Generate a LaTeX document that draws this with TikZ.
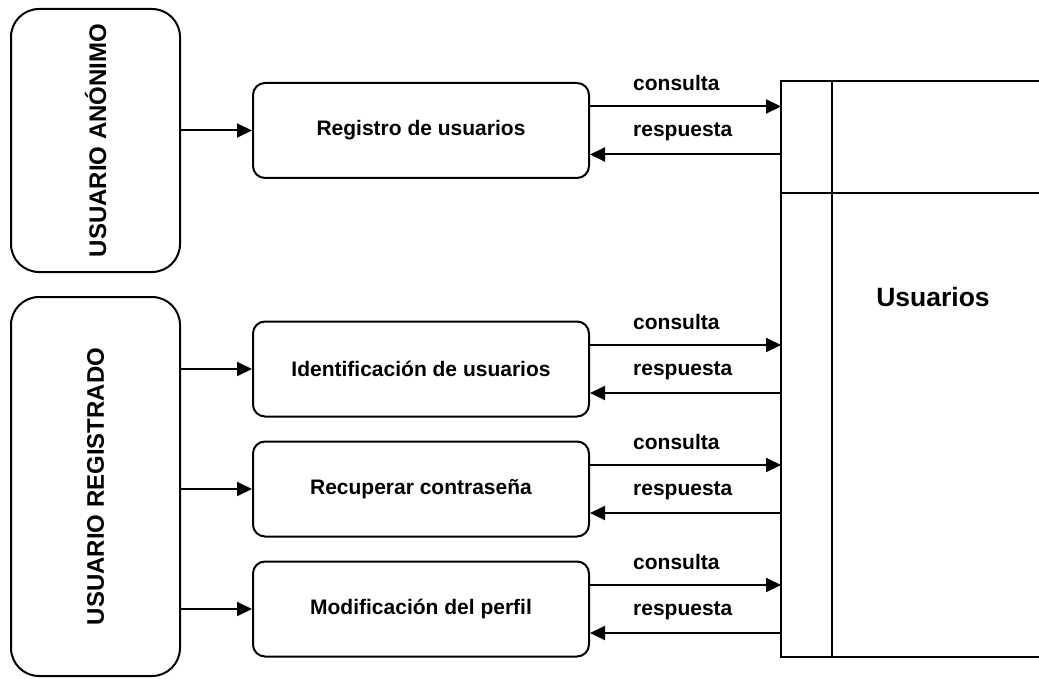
\documentclass[tikz,border=0pt]{standalone}
\usepackage{fontspec}
\setmainfont{Liberation Sans}
\usetikzlibrary{arrows.meta, calc}
\tikzstyle{actor}=[draw, line width = 2pt, rounded corners = 28pt, minimum width = 169pt]
\tikzstyle{proc}=[draw, line width = 2pt, rounded corners = 12pt, minimum width = 336pt, minimum height = 95pt, font = \fontsize{21}{25}\selectfont\bfseries]
\tikzstyle{flow}=[line width = 2pt, -{Triangle[length = 15pt, width = 14pt]}]
\tikzstyle{lbl}=[inner sep = 0pt, anchor = base west, font = \fontsize{21}{25}\selectfont\bfseries]
\tikzstyle{vert}=[rotate = 90, font = \fontsize{24}{28}\selectfont\bfseries]

\begin{document}
\begin{tikzpicture}[x = 1pt, y = -1pt]
\useasboundingbox (0, 0) rectangle (1039, 679);
%% actors
\node (anon) at (95.5, 140.5) [actor, minimum height = 263pt] {};
\node (anontxt) at (anon) [vert] {USUARIO ANÓNIMO};
\node (regis) at (95.5, 486.5) [actor, minimum height = 379pt] {};
\node (registxt) at (regis) [vert] {USUARIO REGISTRADO};
%% processes
\node (reg) at (421, 130.5) [proc] {Registro de usuarios};
\node (ident) at (421, 369) [proc] {Identificación de usuarios};
\node (recup) at (421, 489) [proc] {Recuperar contraseña};
\node (modif) at (421, 609) [proc] {Modificación del perfil};
%% data store
\node (store) at (781, 81) [anchor = north west, inner sep = 0pt, minimum width = 258pt, minimum height = 576pt] {};
\draw [line width = 2pt] (store.north east) -- (store.north west) -- (store.south west) -- (store.south east);
\draw [line width = 2pt] ($(store.north west)+(51, 0)$) -- ($(store.south west)+(51, 0)$);
\draw [line width = 2pt] (781, 193) -- (store.east |- 0, 193);
\node (storetxt) at (933, 297) [font = \fontsize{26.5}{30}\selectfont\bfseries] {Usuarios};
%%%%%%%%%%%%%%%%%%%%%%%
%%%%%%%%%%%%%%%%%%%%%%%
\draw [flow] (reg.west -| anon.east) to (reg.west);
\draw [flow] (ident.west -| regis.east) to (ident.west);
\draw [flow] (recup.west -| regis.east) to (recup.west);
\draw [flow] (modif.west -| regis.east) to (modif.west);
\foreach \p in {reg, ident, recup, modif} {
  \draw [flow] ($(\p.east)+(0, -24)$) to ($(\p.east -| store.west)+(0, -24)$);
  \draw [flow] ($(\p.east -| store.west)+(0, 24)$) to ($(\p.east)+(0, 24)$);
  \node (c\p) at ($(\p.east)+(43, -40)$) [lbl] {consulta};
  \node (r\p) at ($(\p.east)+(43, 6)$) [lbl] {respuesta};
}
\end{tikzpicture}
\end{document}
